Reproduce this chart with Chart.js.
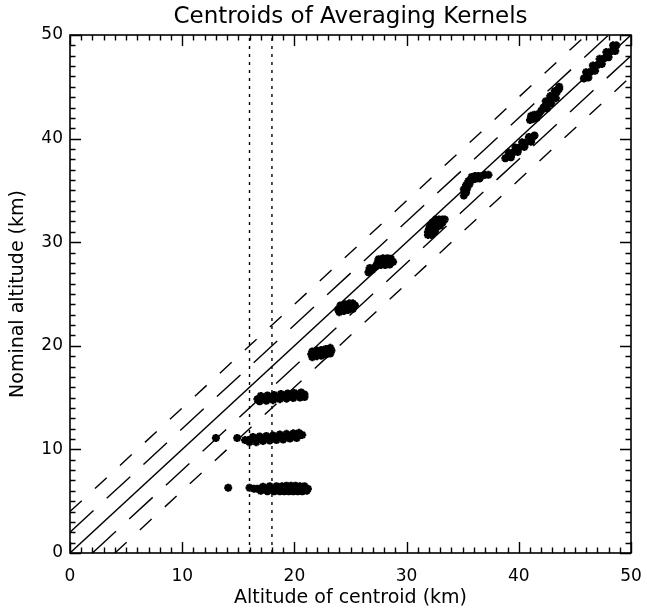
<!DOCTYPE html>
<html>
<head>
<meta charset="utf-8">
<script src="https://cdn.jsdelivr.net/npm/chart.js@4/dist/chart.umd.min.js"></script>
<style>
  html, body { margin: 0; padding: 0; background: #fff; }
</style>
</head>
<body>
<canvas id="chart" width="647" height="612"></canvas>
<script>
// axes
const xRange = [0, 50];
const yRange = [0, 50];
const majorStep = 10;
const minorStep = 1;

// reference lines: 1:1, +/-2 km (long dash), +/-4 km (short dash)
const oneToOne = [[0, 0], [50, 50]];
const plus2 = [[0, 2], [48, 50]];
const minus2 = [[2, 0], [50, 48]];
const plus4 = [[0, 4], [46, 50]];
const minus4 = [[4, 0], [50, 46]];
const dotted16 = [[16, 0], [16, 50]];
const dotted18 = [[18, 0], [18, 50]];

// centroid clusters: [altitude of centroid, nominal altitude] in km
const k06 = [[14.1, 6.3], [16.0, 6.3],
  [16.4, 6.2], [16.7, 6.2], [17.0, 6.2], [17.3, 6.2], [17.6, 6.2], [17.9, 6.2], [18.2, 6.2], [18.5, 6.2],
  [18.8, 6.2], [19.1, 6.2], [19.4, 6.2], [19.7, 6.2], [20.0, 6.2], [20.3, 6.2], [20.6, 6.2], [20.9, 6.2], [21.2, 6.2],
  [17.2, 6.4], [17.8, 6.45], [18.4, 6.45], [18.9, 6.45], [19.3, 6.5], [19.7, 6.5], [20.1, 6.5], [20.5, 6.45], [20.9, 6.45],
  [17.0, 6.0], [17.6, 5.95], [18.2, 5.95], [18.7, 5.95], [19.1, 5.95], [19.5, 5.95], [19.9, 5.95], [20.3, 5.95], [20.7, 5.95], [21.1, 6.0]];
const k11 = [[13.0, 11.1], [14.9, 11.1],
  [15.6, 10.9], [15.9, 10.9], [16.2, 10.95], [16.5, 10.95], [16.8, 11.0], [17.1, 11.0], [17.4, 11.05], [17.7, 11.1],
  [18.0, 11.1], [18.3, 11.15], [18.6, 11.2], [18.9, 11.2], [19.2, 11.25], [19.5, 11.3], [19.8, 11.3], [20.1, 11.35], [20.4, 11.35], [20.7, 11.4],
  [16.3, 11.2], [16.9, 11.25], [17.5, 11.3], [18.1, 11.35], [18.7, 11.45], [19.3, 11.5], [19.9, 11.55], [20.4, 11.6],
  [16.0, 10.7], [16.6, 10.7], [17.2, 10.8], [17.8, 10.85], [18.4, 10.9], [19.0, 10.95], [19.6, 11.05], [20.2, 11.1]];
const k15 = [[16.7, 14.85], [17.0, 14.9], [17.3, 14.9], [17.6, 14.95], [17.9, 15.0], [18.2, 15.0], [18.5, 15.05], [18.8, 15.1],
  [19.1, 15.1], [19.4, 15.15], [19.7, 15.2], [20.0, 15.2], [20.3, 15.25], [20.6, 15.25], [20.9, 15.3],
  [17.0, 15.15], [17.6, 15.2], [18.2, 15.25], [18.8, 15.35], [19.4, 15.4], [20.0, 15.45], [20.6, 15.5],
  [16.9, 14.65], [17.5, 14.7], [18.1, 14.75], [18.7, 14.85], [19.3, 14.9], [19.9, 14.95], [20.5, 15.0], [20.9, 15.05]];
const k19 = [[21.5, 19.2], [21.8, 19.25], [22.1, 19.3], [22.4, 19.35], [22.7, 19.4], [23.0, 19.5], [23.3, 19.55],
  [21.6, 19.45], [22.0, 19.55], [22.4, 19.6], [22.8, 19.7], [23.2, 19.8],
  [21.6, 18.9], [22.0, 19.0], [22.4, 19.05], [22.8, 19.15], [23.2, 19.25]];
const k24 = [[23.9, 23.5], [24.2, 23.6], [24.5, 23.7], [24.8, 23.8], [25.1, 23.85], [25.4, 23.9],
  [24.1, 23.9], [24.5, 24.0], [24.9, 24.1], [25.2, 24.1],
  [24.0, 23.25], [24.4, 23.35], [24.8, 23.45], [25.2, 23.55]];
const k28 = [[27.4, 28.0], [27.7, 28.05], [28.0, 28.1], [28.3, 28.1], [28.6, 28.15], [28.8, 28.1],
  [27.5, 28.35], [27.9, 28.45], [28.3, 28.45], [28.6, 28.4],
  [27.3, 27.7], [27.7, 27.8], [28.1, 27.8], [28.5, 27.85],
  [26.6, 27.1], [26.9, 27.3], [26.7, 27.5], [27.1, 27.55]];
const k32 = [[31.9, 30.7], [32.2, 30.7],
  [31.9, 31.0], [32.2, 31.0], [32.5, 31.0],
  [32.0, 31.3], [32.3, 31.3], [32.6, 31.3],
  [32.1, 31.6], [32.4, 31.6], [32.7, 31.6], [33.0, 31.6],
  [32.3, 31.9], [32.6, 31.9], [32.9, 31.9], [33.2, 31.9],
  [32.6, 32.2], [32.9, 32.2], [33.2, 32.2], [33.4, 32.2]];
const k36 = [[35.1, 34.5], [35.3, 34.8], [35.1, 35.1], [35.4, 35.2], [35.3, 35.5], [35.6, 35.6],
  [35.5, 35.9], [35.8, 36.0], [36.1, 36.1], [35.8, 36.3], [36.1, 36.4], [36.4, 36.4],
  [36.7, 36.4], [37.0, 36.5], [37.3, 36.5], [36.5, 36.15]];
const k39 = [[38.8, 38.1], [39.1, 38.35], [39.4, 38.6], [39.7, 38.85], [40.0, 39.1], [40.3, 39.35],
  [40.6, 39.6], [40.9, 39.85], [41.2, 40.1], [41.4, 40.3],
  [39.1, 38.65], [39.7, 39.15], [40.3, 39.65], [40.9, 40.15],
  [39.3, 38.2], [39.9, 38.7], [40.5, 39.2], [41.1, 39.7]];
const k43 = [[41.0, 41.8], [41.3, 41.9], [41.6, 42.0], [41.1, 42.2], [41.4, 42.3], [41.8, 42.4],
  [42.0, 42.7], [42.2, 43.0], [42.4, 43.2], [42.6, 43.5], [42.8, 43.7], [43.0, 44.0],
  [43.2, 44.2], [43.4, 44.5], [43.6, 44.8], [43.6, 45.0],
  [42.4, 43.6], [42.8, 44.1], [43.2, 44.6],
  [42.5, 42.9], [42.9, 43.4], [43.3, 43.9]];
const k47 = [[45.8, 45.8], [46.1, 46.1], [46.4, 46.45], [46.7, 46.75], [47.0, 47.1], [47.3, 47.4],
  [47.6, 47.75], [47.9, 48.05], [48.2, 48.4], [48.5, 48.7], [48.7, 49.0],
  [46.0, 46.4], [46.6, 47.05], [47.2, 47.7], [47.8, 48.35], [48.4, 49.0],
  [46.2, 45.9], [46.8, 46.55], [47.4, 47.2], [48.0, 47.85], [48.6, 48.45]];

const fontFamily = "'DejaVu Sans', sans-serif";
const toXY = arr => arr.map(p => ({ x: p[0], y: p[1] }));

function refLine(points, dash) {
  return {
    data: toXY(points),
    showLine: true,
    borderColor: '#000',
    borderWidth: 1.4,
    borderDash: dash,
    pointRadius: 0,
    fill: false
  };
}

function cluster(points) {
  return {
    data: toXY(points),
    showLine: false,
    pointStyle: 'star',
    pointRadius: 4,
    borderWidth: 2.4,
    borderColor: '#000',
    backgroundColor: '#000'
  };
}

// ticks pointing inward on all four sides, plus the frame
const idlFrame = {
  id: 'idlFrame',
  afterDraw(chart) {
    const ctx = chart.ctx;
    const a = chart.chartArea;
    const xs = chart.scales.x;
    const ys = chart.scales.y;
    ctx.save();
    ctx.setLineDash([]);
    ctx.strokeStyle = '#000';
    ctx.lineWidth = 1.6;
    ctx.strokeRect(a.left, a.top, a.right - a.left, a.bottom - a.top);
    ctx.lineWidth = 1.4;
    for (let v = xRange[0]; v <= xRange[1]; v += minorStep) {
      const len = (v % majorStep === 0) ? 11 : 5.5;
      const px = Math.round(xs.getPixelForValue(v)) + 0.5;
      ctx.beginPath();
      ctx.moveTo(px, a.bottom);
      ctx.lineTo(px, a.bottom - len);
      ctx.moveTo(px, a.top);
      ctx.lineTo(px, a.top + len);
      ctx.stroke();
    }
    for (let v = yRange[0]; v <= yRange[1]; v += minorStep) {
      const len = (v % majorStep === 0) ? 11 : 5.5;
      const py = Math.round(ys.getPixelForValue(v)) + 0.5;
      ctx.beginPath();
      ctx.moveTo(a.left, py);
      ctx.lineTo(a.left + len, py);
      ctx.moveTo(a.right, py);
      ctx.lineTo(a.right - len, py);
      ctx.stroke();
    }
    ctx.restore();
  }
};

new Chart(document.getElementById('chart'), {
  type: 'scatter',
  data: {
    datasets: [
      refLine(oneToOne, []),
      refLine(plus2, [32, 18]),
      refLine(minus2, [32, 18]),
      refLine(plus4, [16, 18]),
      refLine(minus4, [16, 18]),
      refLine(dotted16, [3, 5]),
      refLine(dotted18, [3, 5]),
      cluster(k06), cluster(k11), cluster(k15), cluster(k19), cluster(k24), cluster(k28),
      cluster(k32), cluster(k36), cluster(k39), cluster(k43), cluster(k47)
    ]
  },
  options: {
    responsive: false,
    animation: false,
    devicePixelRatio: 1,
    layout: { padding: { left: 0, right: 16, top: 0, bottom: 0 } },
    plugins: {
      legend: { display: false },
      tooltip: { enabled: false },
      title: { display: false }
    },
    scales: {
      x: {
        type: 'linear',
        min: xRange[0], max: xRange[1],
        grid: { display: false, drawTicks: false },
        border: { display: false },
        ticks: { stepSize: majorStep, color: '#000', padding: 13, maxRotation: 0,
                 font: { family: fontFamily, size: 17 } },
        title: { display: true, text: 'Altitude of centroid (km)', color: '#000',
                 font: { family: fontFamily, size: 19 }, padding: { top: 0, bottom: 3 } },
        afterFit(scale) { scale.height = 59; scale.paddingLeft = 0; scale.paddingRight = 0; }
      },
      // top axis only carries the plot title, centred over the plot area
      xTop: {
        type: 'linear',
        position: 'top',
        min: xRange[0], max: xRange[1],
        grid: { display: false, drawTicks: false },
        border: { display: false },
        ticks: { display: false },
        title: { display: true, text: 'Centroids of Averaging Kernels', color: '#000',
                 font: { family: fontFamily, size: 23 }, padding: { top: 3, bottom: 0 } },
        afterFit(scale) { scale.height = 35; scale.paddingLeft = 0; scale.paddingRight = 0; }
      },
      y: {
        type: 'linear',
        min: yRange[0], max: yRange[1],
        grid: { display: false, drawTicks: false },
        border: { display: false },
        ticks: { stepSize: majorStep, color: '#000', padding: 7,
                 font: { family: fontFamily, size: 17 } },
        title: { display: true, text: 'Nominal altitude (km)', color: '#000',
                 font: { family: fontFamily, size: 19 }, padding: { top: 7, bottom: 0 } },
        afterFit(scale) { scale.width = 70; scale.paddingTop = 0; scale.paddingBottom = 0; }
      }
    }
  },
  plugins: [idlFrame]
});
</script>
</body>
</html>
